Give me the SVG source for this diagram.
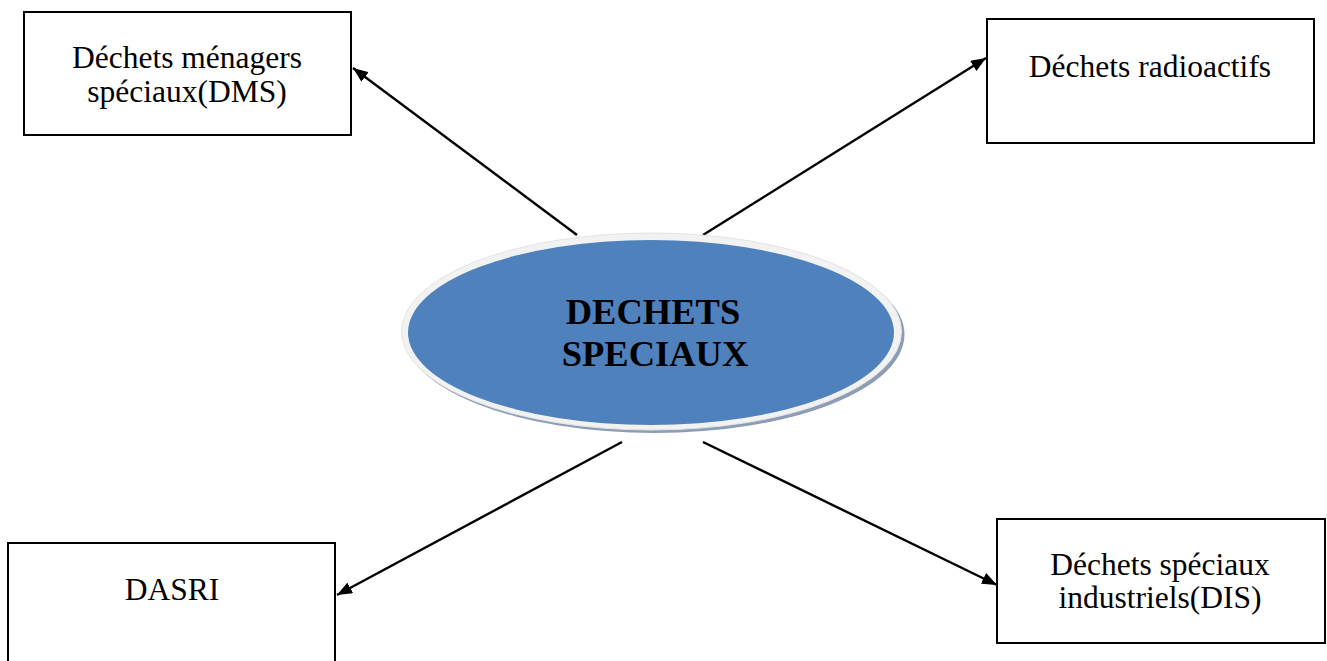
<svg xmlns="http://www.w3.org/2000/svg" width="1327" height="661" viewBox="0 0 1327 661">
<style>
.box{fill:#fff;stroke:#000;stroke-width:2}
.t{font-family:"Liberation Serif","Times New Roman",serif;font-size:31.5px;fill:#000;text-anchor:middle}
.tb{font-family:"Liberation Serif","Times New Roman",serif;font-size:36.5px;font-weight:bold;fill:#000;text-anchor:middle}
.c{stroke:#000;stroke-width:2.4;fill:none;marker-end:url(#ah)}
</style>
<defs>
<marker id="ah" viewBox="0 0 15 12" refX="15" refY="6" markerWidth="15" markerHeight="12" markerUnits="userSpaceOnUse" orient="auto">
<path d="M0,0 L15,6 L0,12 z" fill="#000"/>
</marker>
</defs>
<rect width="1327" height="661" fill="#fff"/>
<g id="connectors">
<line class="c" x1="577" y1="235" x2="353" y2="68"/>
<line class="c" x1="703" y1="235" x2="986" y2="58"/>
<line class="c" x1="622" y1="442" x2="337" y2="595"/>
<line class="c" x1="703" y1="442" x2="997" y2="585"/>
</g>
<g id="center">
<ellipse cx="654.5" cy="334.5" rx="250" ry="98.5" fill="#8c9db6"/>
<ellipse cx="651.5" cy="331.5" rx="250" ry="98.5" fill="#f2f2f2" stroke="#e4e4e4" stroke-width="1"/>
<ellipse cx="651" cy="332.5" rx="243" ry="92.5" fill="#4f81bd"/>
<text class="tb" x="653" y="324">DECHETS</text>
<text class="tb" x="655" y="366">SPECIAUX</text>
</g>
<g id="dms">
<rect class="box" x="24" y="12" width="327" height="123"/>
<text class="t" x="187" y="68">Déchets ménagers</text>
<text class="t" x="187" y="102">spéciaux(DMS)</text>
</g>
<g id="radio">
<rect class="box" x="987" y="19" width="327" height="124"/>
<text class="t" x="1150" y="77">Déchets radioactifs</text>
</g>
<g id="dasri">
<rect class="box" x="8" y="543" width="327" height="130"/>
<text class="t" x="172" y="600">DASRI</text>
</g>
<g id="dis">
<rect class="box" x="997" y="519" width="328" height="124"/>
<text class="t" x="1160" y="575">Déchets spéciaux</text>
<text class="t" x="1160" y="608">industriels(DIS)</text>
</g>
</svg>
